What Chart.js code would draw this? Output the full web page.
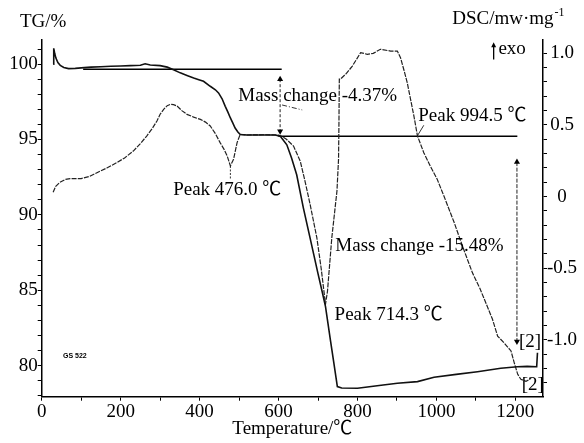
<!DOCTYPE html>
<html>
<head>
<meta charset="utf-8">
<script src="https://cdn.jsdelivr.net/npm/chart.js@4"></script>
<style>
  html, body { margin: 0; padding: 0; background: #fff; }
</style>
</head>
<body>
<canvas id="tgChart" width="584" height="443"></canvas>
<script>
// TG curve (temperature in °C, mass in %)
const tgTemp = [29, 30.5, 33, 36, 41, 47, 56, 68, 85, 100, 125, 150, 175, 200, 225, 250, 262, 275, 300, 318,
  334, 351, 368, 385, 398, 410, 427, 440, 448, 457, 465, 472, 478, 484, 490, 497, 503, 520, 554, 592,
  605, 621, 633, 646, 663, 680, 689, 700, 711, 719, 732, 740, 749, 760, 800, 825, 860, 901, 952, 994,
  1050, 1104, 1163, 1205, 1230, 1254, 1256];
const tgMass = [100.0, 101.05, 100.7, 100.4, 100.1, 99.92, 99.78, 99.7, 99.72, 99.75, 99.8, 99.83, 99.86, 99.88, 99.9, 99.93, 100.02, 99.94, 99.9, 99.8,
  99.63, 99.42, 99.25, 99.08, 98.97, 98.86, 98.53, 98.3, 98.09, 97.7, 97.2, 96.8, 96.43, 96.1, 95.76, 95.5, 95.33, 95.3, 95.3, 95.3,
  95.2, 94.65, 93.77, 92.66, 90.45, 88.46, 87.4, 86.1, 84.85, 83.92, 81.6, 80.2, 78.61, 78.52, 78.5, 78.58, 78.7, 78.83, 78.94, 79.23,
  79.42, 79.6, 79.83, 79.93, 79.95, 79.93, 80.85];

// DSC curve (temperature in °C, heat flow in mW/mg)
const dscTemp = [29, 35, 46, 60, 72, 100, 120, 140, 165, 190, 210, 232, 250, 266, 280, 292, 300, 309, 318, 326,
  334, 343, 355, 368, 385, 402, 415, 427, 440, 452, 462, 470, 478, 486, 495, 503, 520, 560, 600, 608,
  620, 638, 655, 667, 680, 697, 708, 719, 724, 735, 748, 752, 753, 754, 757, 772, 787, 798, 808, 825,
  840, 858, 884, 901, 909, 918, 926, 943, 952, 968, 985, 1002, 1019, 1045, 1066, 1091, 1110, 1125, 1142, 1155,
  1171, 1189, 1197, 1206, 1214, 1227, 1240];
const dscValue = [0.03, 0.07, 0.10, 0.12, 0.126, 0.126, 0.14, 0.167, 0.20, 0.237, 0.27, 0.318, 0.37, 0.423, 0.475, 0.528, 0.575, 0.609, 0.635, 0.644,
  0.642, 0.632, 0.60, 0.574, 0.555, 0.539, 0.52, 0.493, 0.44, 0.377, 0.33, 0.283, 0.214, 0.26, 0.377, 0.435, 0.43, 0.432, 0.43, 0.421,
  0.40, 0.353, 0.248, 0.109, -0.054, -0.286, -0.50, -0.75, -0.66, -0.286, 0.039, 0.26, 0.50, 0.82, 0.82, 0.86, 0.911, 0.96, 1.005, 0.993,
  1.0, 1.028, 1.016, 1.016, 0.97, 0.88, 0.796, 0.562, 0.423, 0.307, 0.21, 0.121, 0.004, -0.181, -0.345, -0.53, -0.64, -0.74, -0.856, -0.973,
  -1.019, -1.077, -1.158, -1.24, -1.275, -1.289, -1.268];

// construction lines (TG axis units)
const stepTopTemp = [105, 608];
const stepTopMass = [99.66, 99.66];
const stepLowTemp = [600, 1205];
const stepLowMass = [95.22, 95.22];
const arrowATemp = [604, 604];
const arrowAMass = [99.0, 95.55];
const arrowBTemp = [1204, 1204];
const arrowBMass = [93.5, 81.6];
const leaderTemp = [609, 660];
const leaderMass = [97.29, 96.96];
// DSC peak markers (DSC axis units)
const peak1Temp = [478, 478];
const peak1Dsc = [0.214, 0.121];
const peak3Temp = [951, 968];
const peak3Dsc = [0.421, 0.498];

// ticks
const tempTicks = [0, 100, 200, 300, 400, 500, 600, 700, 800, 900, 1000, 1100, 1200];
const tempLabelled = [0, 200, 400, 600, 800, 1000, 1200];
const tgTicks = [78, 79, 80, 81, 82, 83, 84, 85, 86, 87, 88, 89, 90, 91, 92, 93, 94, 95, 96, 97, 98, 99, 100, 101];
const tgLabelled = [80, 85, 90, 95, 100];
const dscTicks = [-1.3, -1.2, -1.1, -1.0, -0.9, -0.8, -0.7, -0.6, -0.5, -0.4, -0.3, -0.2, -0.1, 0,
  0.1, 0.2, 0.3, 0.4, 0.5, 0.6, 0.7, 0.8, 0.9, 1.0];
const dscLabelled = [-1.0, -0.5, 0, 0.5, 1.0];
const dscLabelText = ['-1.0', '-0.5', '0', '0.5', '1.0'];

const serif = '"Liberation Serif", "Noto Sans CJK SC", serif';

// annotation texts anchored in data units (temperature, TG %)
const notes = [
  { text: 'Peak 476.0 ℃', t: 333, m: 91.67 },
  { text: 'Mass change -4.37%', t: 498, m: 97.91 },
  { text: 'Peak 994.5 ℃', t: 954, m: 96.59 },
  { text: 'Mass change -15.48%', t: 744, m: 87.95 },
  { text: 'Peak 714.3 ℃', t: 742, m: 83.37 },
  { text: '[2]', t: 1209, m: 81.54 },
  { text: '[2]', t: 1216, m: 78.72 },
];

function pts(xs, ys) {
  return xs.map((x, i) => ({ x: x, y: ys[i] }));
}

const notesPlugin = {
  id: 'notes',
  afterDatasetsDraw(chart) {
    const { ctx } = chart;
    const x = chart.scales.x, y = chart.scales.y;
    ctx.save();
    ctx.fillStyle = '#000';
    ctx.strokeStyle = '#000';
    ctx.textBaseline = 'middle';
    ctx.textAlign = 'left';
    ctx.font = '19px ' + serif;
    notes.forEach(n => ctx.fillText(n.text, x.getPixelForValue(n.t), y.getPixelForValue(n.m)));

    // axis headings
    ctx.fillText('TG/%', x.getPixelForValue(-55), y.getPixelForValue(102.76));
    const dx = x.getPixelForValue(1040), dy = y.getPixelForValue(103.02);
    ctx.fillText('DSC/mw·mg', dx, dy);
    const w = ctx.measureText('DSC/mw·mg').width;
    ctx.font = '12px ' + serif;
    ctx.fillText('-1', dx + w + 1, dy - 6);

    // exo arrow
    ctx.font = '19px ' + serif;
    ctx.fillText('exo', x.getPixelForValue(1157), y.getPixelForValue(101.0));
    const ax = x.getPixelForValue(1145);
    const a0 = y.getPixelForValue(100.3), a1 = y.getPixelForValue(101.45);
    ctx.lineWidth = 1.3;
    ctx.beginPath();
    ctx.moveTo(ax, a0);
    ctx.lineTo(ax, a1 + 3);
    ctx.stroke();
    ctx.beginPath();
    ctx.moveTo(ax, a1);
    ctx.lineTo(ax - 2.5, a1 + 5);
    ctx.lineTo(ax + 2.5, a1 + 5);
    ctx.closePath();
    ctx.fill();

    // sample tag
    ctx.font = 'bold 7px "Liberation Sans Narrow", "Liberation Sans", sans-serif';
    ctx.fillText('GS 522', x.getPixelForValue(54), y.getPixelForValue(80.65));
    ctx.restore();
  }
};

const thinTicks = {
  display: true,
  drawOnChartArea: false,
  drawTicks: true,
  tickLength: 4,
  tickColor: '#000',
  tickWidth: 1,
};

new Chart(document.getElementById('tgChart'), {
  type: 'line',
  data: {
    datasets: [
      { data: pts(tgTemp, tgMass), yAxisID: 'y', borderColor: '#111', borderWidth: 1.6 },
      { data: pts(dscTemp, dscValue), yAxisID: 'y1', borderColor: '#222', borderWidth: 1.2, borderDash: [5, 1.2] },
      { data: pts(stepTopTemp, stepTopMass), yAxisID: 'y', borderColor: '#000', borderWidth: 1.3 },
      { data: pts(stepLowTemp, stepLowMass), yAxisID: 'y', borderColor: '#000', borderWidth: 1.6 },
      {
        data: pts(arrowATemp, arrowAMass), yAxisID: 'y', borderColor: '#222', borderWidth: 1, borderDash: [3, 2],
        pointStyle: 'triangle', pointRadius: 3.5, pointRotation: [0, 180], pointBackgroundColor: '#000', pointBorderWidth: 0
      },
      {
        data: pts(arrowBTemp, arrowBMass), yAxisID: 'y', borderColor: '#222', borderWidth: 1, borderDash: [4, 1.5],
        pointStyle: 'triangle', pointRadius: 3.5, pointRotation: [0, 180], pointBackgroundColor: '#000', pointBorderWidth: 0
      },
      { data: pts(leaderTemp, leaderMass), yAxisID: 'y', borderColor: '#333', borderWidth: 1, borderDash: [5, 2, 1, 2] },
      { data: pts(peak1Temp, peak1Dsc), yAxisID: 'y1', borderColor: '#333', borderWidth: 1, borderDash: [2, 1.5] },
      { data: pts(peak3Temp, peak3Dsc), yAxisID: 'y1', borderColor: '#333', borderWidth: 1 },
    ],
  },
  options: {
    responsive: false,
    animation: false,
    devicePixelRatio: 1,
    layout: { padding: { top: 40, left: 0, right: 0, bottom: 0 } },
    plugins: { legend: { display: false }, tooltip: { enabled: false } },
    elements: { point: { radius: 0 }, line: { tension: 0 } },
    scales: {
      x: {
        type: 'linear',
        min: 0,
        max: 1270,
        afterBuildTicks: a => { a.ticks = tempTicks.map(v => ({ value: v })); },
        afterFit: a => { a.height = 46.3; },
        grid: thinTicks,
        border: { display: true, color: '#000', width: 1.5 },
        ticks: {
          autoSkip: false, maxRotation: 0, padding: 0, color: '#000',
          font: { family: serif, size: 19 },
          callback: v => tempLabelled.includes(v) ? String(v) : '',
        },
        title: {
          display: true, text: 'Temperature/℃', color: '#000',
          font: { family: serif, size: 19 }, padding: { top: 0, bottom: 3 },
        },
      },
      y: {
        position: 'left',
        min: 77.94,
        max: 101.6,
        afterBuildTicks: a => { a.ticks = tgTicks.map(v => ({ value: v })); },
        afterFit: a => { a.width = 41.7; },
        grid: thinTicks,
        border: { display: true, color: '#000', width: 1.5 },
        ticks: {
          autoSkip: false, padding: 0, color: '#000',
          font: { family: serif, size: 19 },
          callback: v => tgLabelled.includes(v) ? String(v) : '',
        },
      },
      y1: {
        position: 'right',
        min: -1.396,
        max: 1.093,
        afterBuildTicks: a => { a.ticks = dscTicks.map(v => ({ value: v })); },
        afterFit: a => { a.width = 41; },
        grid: thinTicks,
        border: { display: true, color: '#000', width: 1.5 },
        ticks: {
          autoSkip: false, padding: 0, color: '#000', crossAlign: 'center',
          font: { family: serif, size: 19 },
          callback: v => {
            const i = dscLabelled.findIndex(d => Math.abs(d - v) < 1e-9);
            return i >= 0 ? dscLabelText[i] : '';
          },
        },
      },
    },
  },
  plugins: [notesPlugin],
});
</script>
</body>
</html>
